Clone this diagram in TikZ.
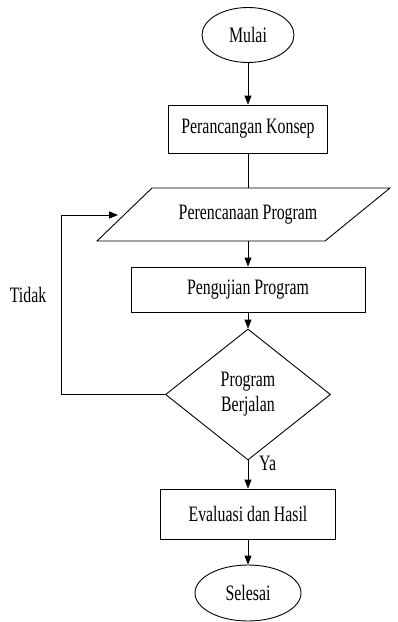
\documentclass[tikz,border=0pt]{standalone}
\usepackage{fontspec}
\setmainfont[FakeStretch=0.72]{Liberation Serif}
\usetikzlibrary{shapes.geometric,arrows.meta}
\begin{document}
\begin{tikzpicture}[x=1pt,y=-1pt,
  every node/.style={font=\fontsize{22}{25}\selectfont, inner sep=0pt},
  flowline/.style={line width=0.9pt},
  arr/.style={flowline, -{Triangle[length=9pt,width=7pt]}},
  term/.style={ellipse, draw, line width=0.9pt},
  proc/.style={rectangle, draw, line width=0.9pt},
  decide/.style={diamond, draw, line width=0.9pt, align=center}]
\useasboundingbox (0,0) rectangle (397,622);

\node[term, minimum width=92pt, minimum height=55pt] (mulai) at (248,35) {Mulai};
\node[proc, minimum width=159pt, minimum height=48pt] (konsep) at (248,129) {Perancangan Konsep};
\node[minimum width=180pt, minimum height=53pt] (rencana) at (248,214.5) {Perencanaan Program};
\draw[flowline] (97,241) -- (325,241) -- (390,188) -- (152,188) -- cycle;
\node[proc, minimum width=234pt, minimum height=45pt] (uji) at (248,289.5) {Pengujian Program};
\node[decide, minimum width=165pt, minimum height=131pt] (jalan) at (248,394.5) {Program\\Berjalan};
\node[proc, minimum width=175pt, minimum height=50pt] (eval) at (248,514) {Evaluasi dan Hasil};
\node[term, minimum width=106pt, minimum height=56pt] (selesai) at (248,593) {Selesai};

\node (tidak) at (28,295) {Tidak};
\node[anchor=west] (ya) at (259,463) {Ya};

\coordinate (loopend) at (118,215);

\draw[arr] (mulai) -- (konsep);
\draw[flowline] (konsep) -- (rencana);
\draw[arr] (rencana) -- (uji);
\draw[arr] (uji) -- (jalan);
\draw[arr] (jalan) -- (eval);
\draw[arr] (eval) -- (selesai);
\draw[arr] (jalan.west) -- (61,394.5) |- (loopend);
\end{tikzpicture}
\end{document}
